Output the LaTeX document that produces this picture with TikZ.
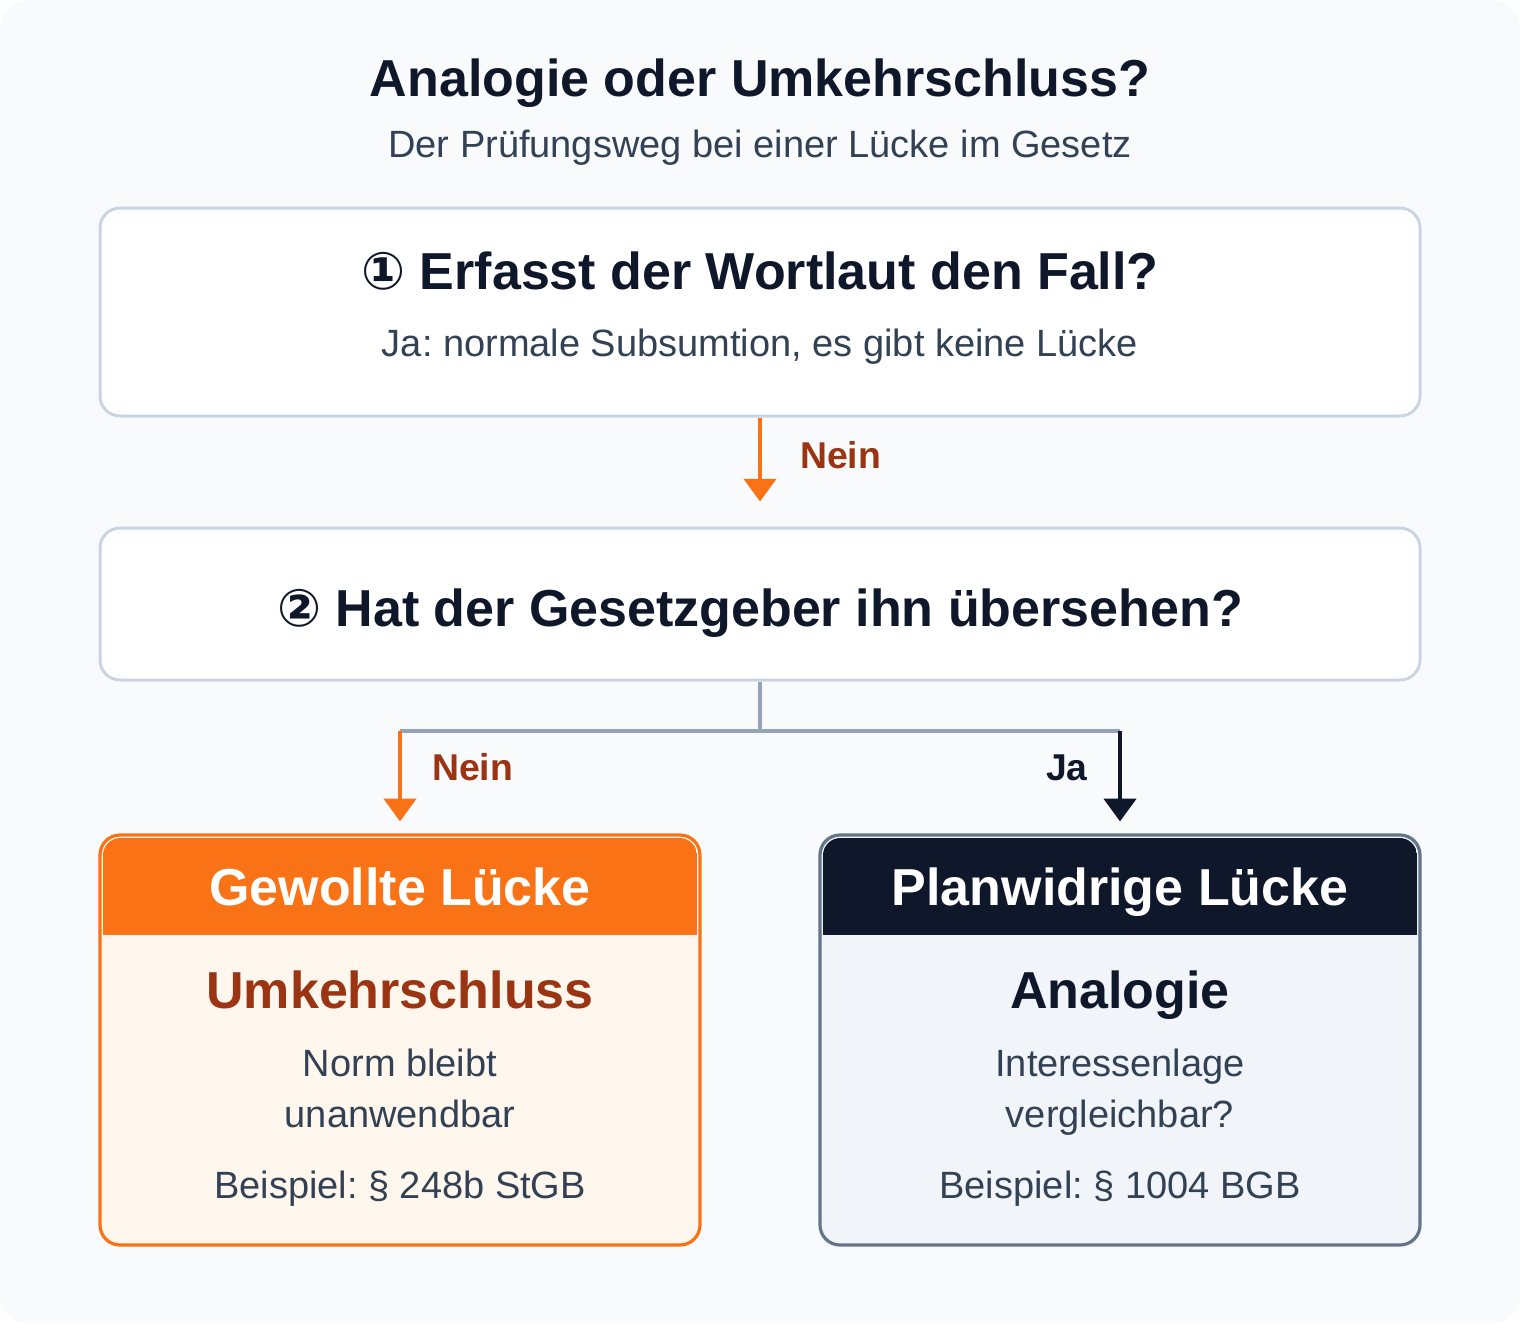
\documentclass[tikz,border=0pt]{standalone}
\usepackage{fontspec}
\setmainfont{Liberation Sans}
\newfontfamily\circfont{DejaVu Sans}
\usetikzlibrary{arrows.meta}
\frenchspacing

\definecolor{pagebg}{HTML}{F8FAFC}
\definecolor{boxline}{HTML}{CBD5E1}
\definecolor{ink}{HTML}{0F172A}
\definecolor{softink}{HTML}{334155}
\definecolor{accent}{HTML}{F97316}
\definecolor{rust}{HTML}{9A3412}
\definecolor{cream}{HTML}{FFF7ED}
\definecolor{slate}{HTML}{64748B}
\definecolor{mist}{HTML}{F1F5F9}
\definecolor{wire}{HTML}{94A3B8}

\tikzset{
  qbox/.style={draw=boxline, line width=2.25pt, fill=white, rounded corners=15pt,
    minimum width=990pt, inner sep=0pt},
  card/.style={line width=2.4pt, rounded corners=15pt,
    minimum width=450pt, minimum height=307.5pt, inner sep=0pt},
  bigtext/.style={font=\bfseries\fontsize{39pt}{44pt}\selectfont, text=ink, anchor=base, inner sep=0pt},
  smalltext/.style={font=\fontsize{28.5pt}{33pt}\selectfont, text=softink, anchor=base, inner sep=0pt},
  tag/.style={font=\bfseries\fontsize{28pt}{32pt}\selectfont, anchor=base, inner sep=0pt},
  flow/.style={line width=3pt, -{Triangle[length=17pt,width=24pt]}},
  wireline/.style={line width=3pt, wire}
}

\begin{document}
\begin{tikzpicture}[x=0.75pt,y=-0.75pt]

\useasboundingbox (0,0) rectangle (1520,1334);
\fill[pagebg, rounded corners=21pt] (0,0) rectangle (1520,1323);

% Title
\node[bigtext] (title) at (760,97) {Analogie oder Umkehrschluss?};
\node[smalltext] (subtitle) at (760,157) {Der Prüfungsweg bei einer Lücke im Gesetz};

% Question boxes
\node[qbox, minimum height=156pt] (q1) at (760,312) {};
\node[bigtext] (q1head) at (760,289) {{\circfont\bfseries ①} Erfasst der Wortlaut den Fall?};
\node[smalltext] (q1note) at (760,356) {Ja: normale Subsumtion, es gibt keine Lücke};

\node[qbox, minimum height=114pt] (q2) at (760,604) {};
\node[bigtext] (q2head) at (760,626) {{\circfont\bfseries ②} Hat der Gesetzgeber ihn übersehen?};

% Result cards
\foreach \cx/\name/\edge/\inner/\head/\title/\result/\resultc/\lineA/\lineB/\example in {
    400/gewollt/accent/cream/accent/{Gewollte Lücke}/Umkehrschluss/rust/{Norm bleibt}/unanwendbar/{Beispiel: § 248b StGB},
    1120/planwidrig/slate/mist/ink/{Planwidrige Lücke}/Analogie/ink/Interessenlage/vergleichbar?/{Beispiel: § 1004 BGB}} {

    \node[card, fill=\inner] (\name) at (\cx,1040) {};
    \begin{scope}
        \clip[rounded corners=13pt] (\cx-297,838) rectangle (\cx+297,1242);
        \fill[\head] (\cx-297,838) rectangle (\cx+297,935);
    \end{scope}
    \node[card, draw=\edge] at (\name) {};

    \node[bigtext, text=white] (\name-title) at (\cx,905) {\title};
    \node[bigtext, text=\resultc] (\name-result) at (\cx,1008) {\result};
    \node[smalltext] (\name-a) at (\cx,1076) {\lineA};
    \node[smalltext] (\name-b) at (\cx,1127) {\lineB};
    \node[smalltext] (\name-ex) at (\cx,1198) {\example};
}

% Connectors
\draw[flow, accent] (q1.south) -- ([yshift=18.75pt]q2.north);
\node[tag, text=rust, anchor=base west] (nein1) at (800,468) {Nein};

\coordinate (split) at (760,731);
\coordinate (leftend) at (400,731);
\coordinate (rightend) at (1120,731);
\draw[wireline] (q2.south) -- (split);
\draw[wireline] (leftend) -- (rightend);

\draw[flow, accent] (leftend) -- ([yshift=9pt]gewollt.north);
\draw[flow, ink] (rightend) -- ([yshift=9pt]planwidrig.north);
\node[tag, text=rust, anchor=base west] (nein2) at (432,780) {Nein};
\node[tag, text=ink, anchor=base east] (ja) at (1088,780) {Ja};

\end{tikzpicture}
\end{document}
